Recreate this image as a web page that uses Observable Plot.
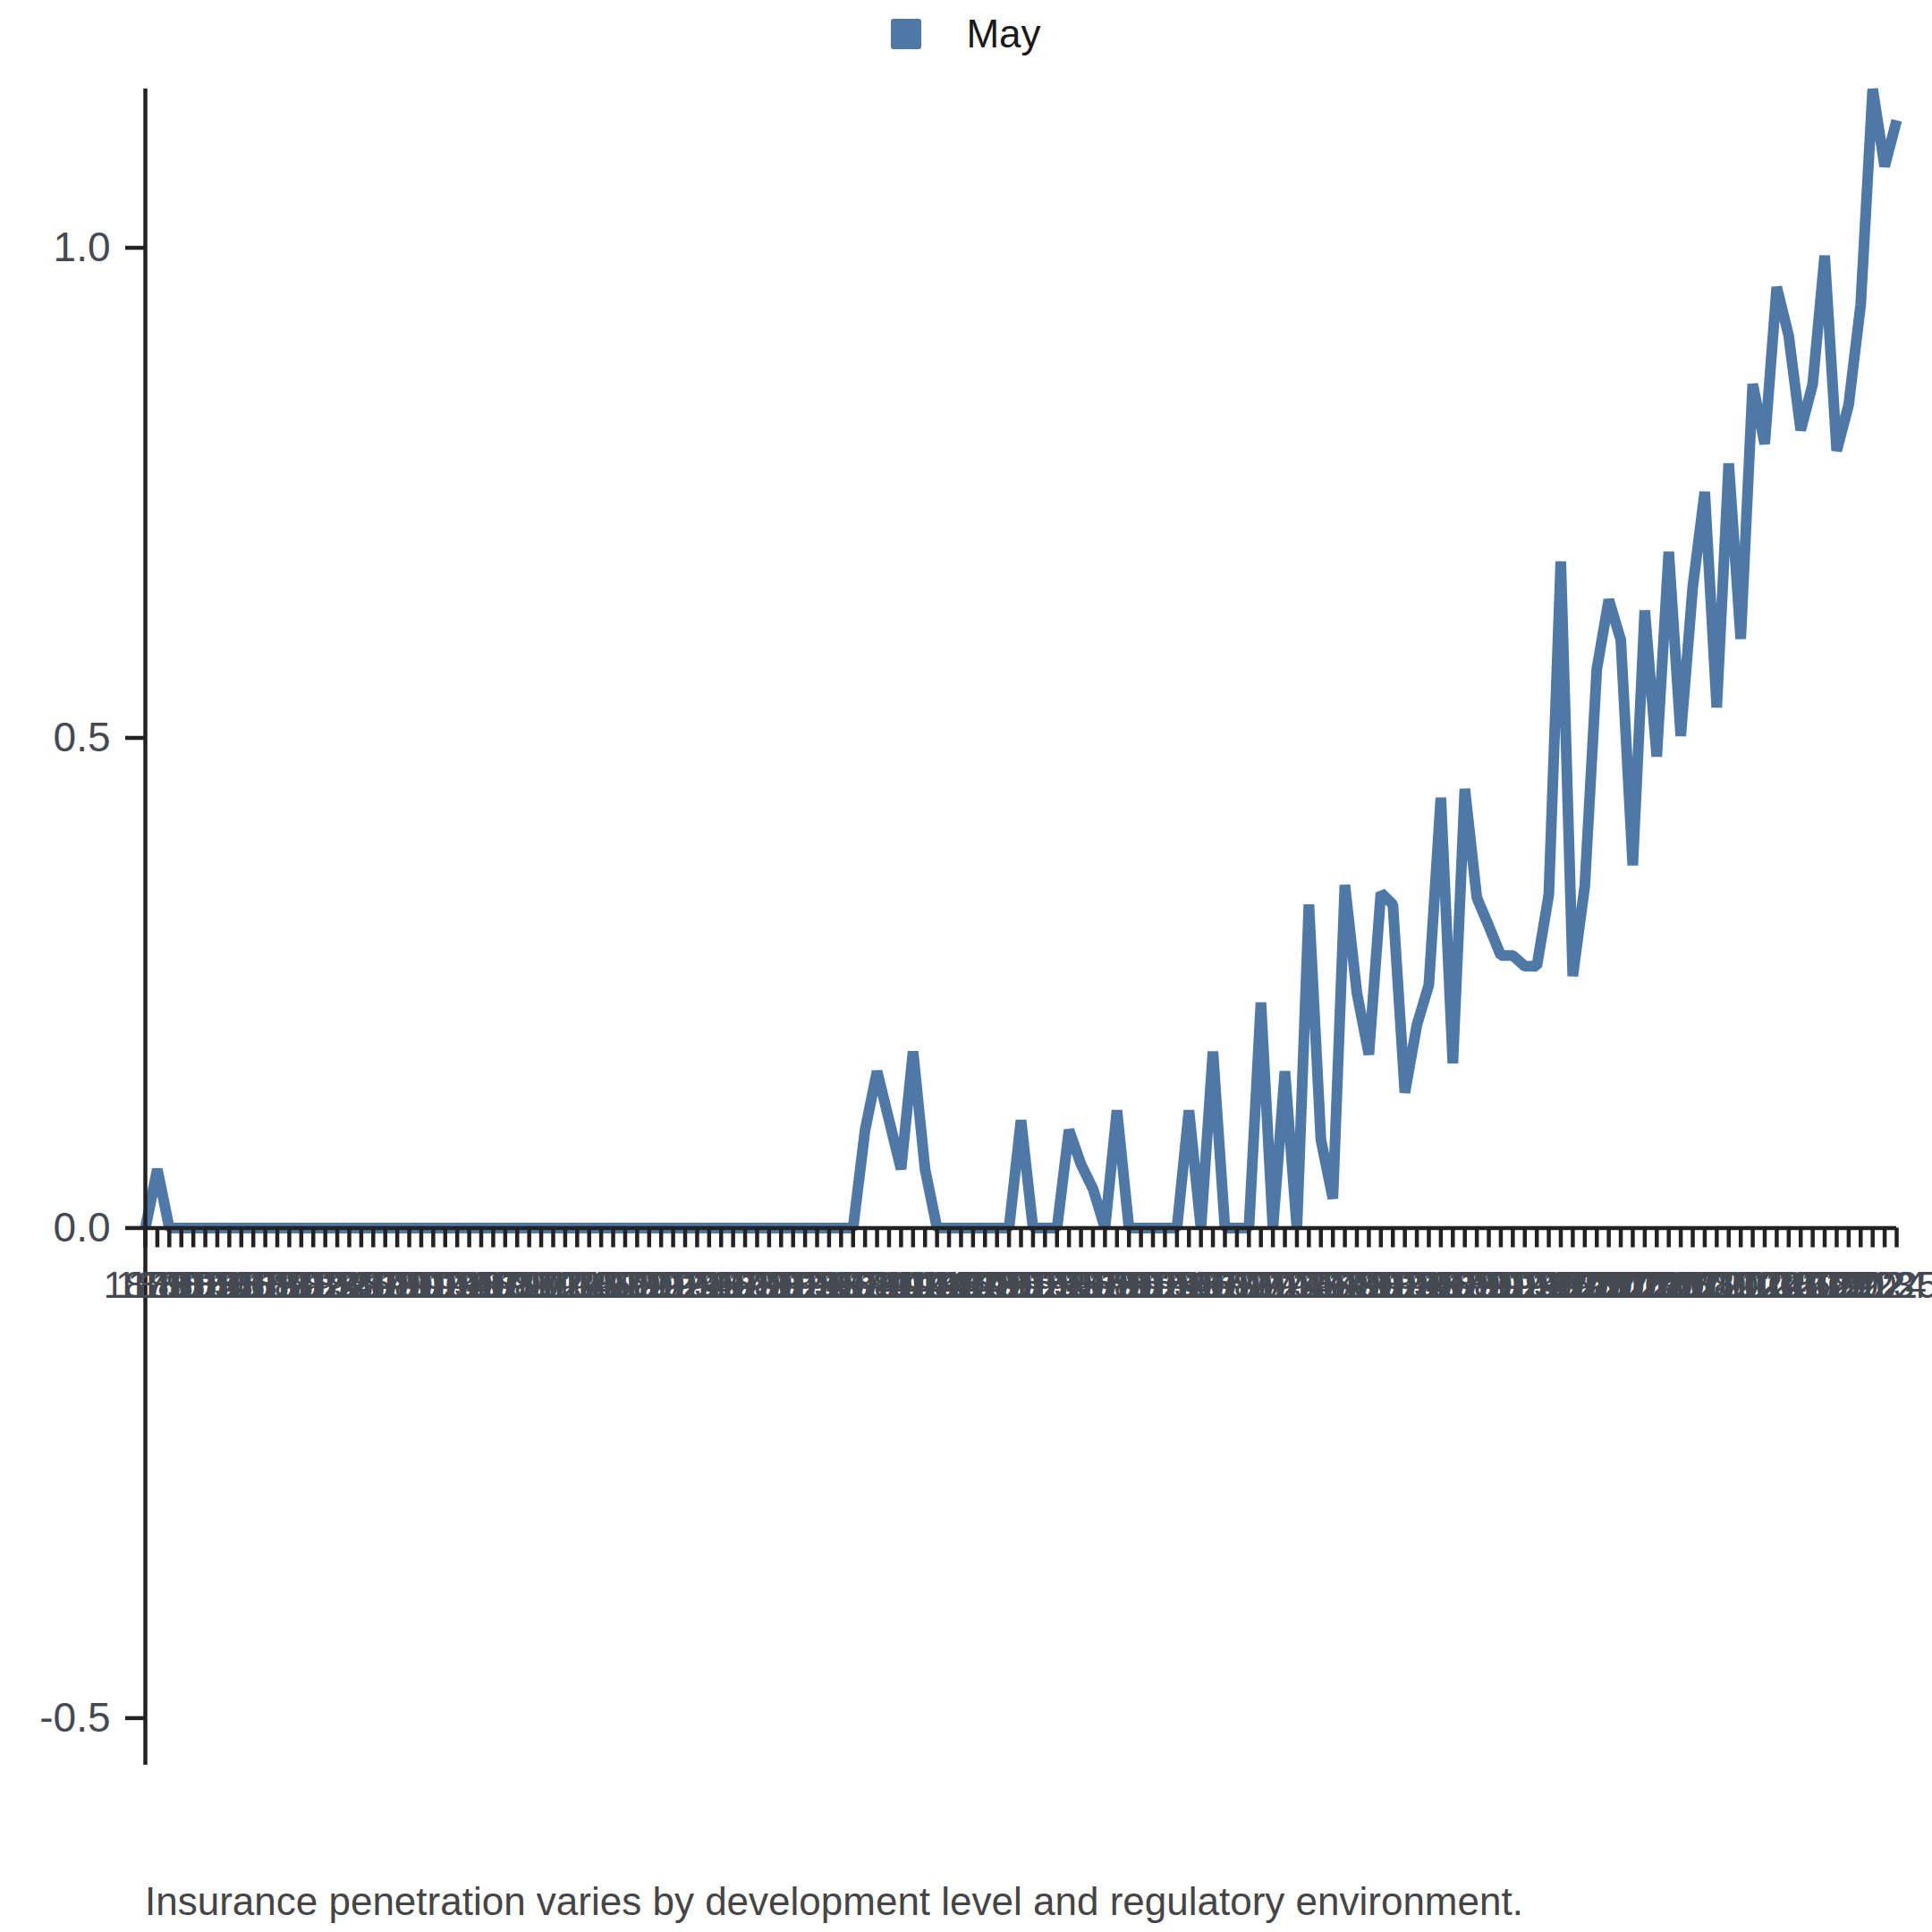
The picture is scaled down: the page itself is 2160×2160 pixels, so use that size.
<!DOCTYPE html>
<html>
<head>
<meta charset="utf-8">
<script src="https://cdn.jsdelivr.net/npm/d3@7"></script>
<script src="https://cdn.jsdelivr.net/npm/@observablehq/plot@0.6"></script>
<style>
  html, body { margin: 0; padding: 0; background: #ffffff; }
  body { width: 2160px; font-family: "Liberation Sans", Arial, sans-serif; }
  #legend { height: 76px; display: flex; align-items: center; justify-content: center; }
  #legend .sw { width: 34px; height: 34px; border-radius: 3px; background: #4e79a7; margin-right: 50px; }
  #legend .lb { font-size: 44px; color: #1a1a1a; }
  #caption { margin-left: 162px; margin-top: 6px; font-size: 44px; line-height: 48px; color: #454545; }
  svg { display: block; }
</style>
</head>
<body>
<div id="legend"><div class="sw"></div><div class="lb">May</div></div>
<div id="chart"></div>
<div id="caption">Insurance penetration varies by development level and regulatory environment.</div>
<script>
// ---- data ----
const seriesName = "May";
const years = d3.range(1879, 2026); // 147 categories, 1879 … 2025
const values = [
  0, 0.06,
  0, 0, 0, 0, 0, 0, 0, 0, 0, 0,
  0, 0, 0, 0, 0, 0, 0, 0, 0, 0,
  0, 0, 0, 0, 0, 0, 0, 0, 0, 0,
  0, 0, 0, 0, 0, 0, 0, 0, 0, 0,
  0, 0, 0, 0, 0, 0, 0, 0, 0, 0,
  0, 0, 0, 0, 0, 0, 0, 0,
  0.10, 0.16, 0.11, 0.06, 0.18, 0.06,
  0, 0, 0, 0, 0, 0, 0,
  0.11, 0, 0, 0, 0.10, 0.065, 0.04, 0,
  0.12, 0, 0, 0, 0, 0,
  0.12, 0, 0.18, 0, 0, 0,
  0.23, 0, 0.16, 0, 0.33, 0.09, 0.03, 0.35, 0.24,
  0.177, 0.342, 0.33, 0.138, 0.207, 0.248, 0.439, 0.168, 0.448, 0.337,
  0.308, 0.278, 0.278, 0.267, 0.267, 0.34, 0.68, 0.257, 0.349, 0.57,
  0.641, 0.60, 0.37, 0.63, 0.481, 0.69, 0.502, 0.654, 0.751, 0.531,
  0.78, 0.601, 0.861, 0.80, 0.96, 0.91, 0.814, 0.861, 0.992, 0.793,
  0.84, 0.942, 1.162, 1.083, 1.13
];
const yTicks = [-0.5, 0, 0.5, 1.0];
const yDomain = [-0.548, 1.162];

if (values.length !== years.length) console.error("length mismatch", values.length, years.length);

const rows = years.map((y, i) => ({year: y, value: values[i]}));

// ---- layout ----
const W = 2160, H = 2020;
const mT = 23, mB = 123, mL = 162, mR = 40;
const tickLen = 22;
const pxPerUnit = (H - mT - mB) / (yDomain[1] - yDomain[0]);
const tickEnd = -tickLen / pxPerUnit;
const ink = "#222222";
const labelInk = "#454a52";
const lineColor = "#4e79a7";

const chart = Plot.plot({
  width: W,
  height: H,
  marginTop: mT,
  marginBottom: mB,
  marginLeft: mL,
  marginRight: mR,
  style: {fontFamily: "'Liberation Sans', Arial, sans-serif", background: "#ffffff", overflow: "visible"},
  x: {type: "point", domain: years, padding: 0, axis: null},
  y: {domain: yDomain, axis: null},
  marks: [
    Plot.line(rows, {x: "year", y: "value", stroke: lineColor, strokeWidth: 12, strokeLinejoin: "bevel", strokeLinecap: "butt"}),
    Plot.axisY({ticks: yTicks, tickSize: tickLen, tickPadding: 17, fontSize: 46, tickFormat: d => d.toFixed(1), stroke: ink, fill: labelInk, strokeWidth: 4.5, label: null}),
    Plot.ruleX([years[0]], {stroke: ink, strokeWidth: 4.5}),
    Plot.ruleX(years, {x: d => d, y1: 0, y2: tickEnd, stroke: ink, strokeWidth: 4.5}),
    Plot.ruleY([0], {stroke: ink, strokeWidth: 4.5}),
    Plot.text(years, {x: d => d, y: 0, text: d => String(d), dy: 48, lineAnchor: "top", fontSize: 42, fill: labelInk})
  ]
});
document.getElementById("chart").appendChild(chart);
</script>
</body>
</html>
